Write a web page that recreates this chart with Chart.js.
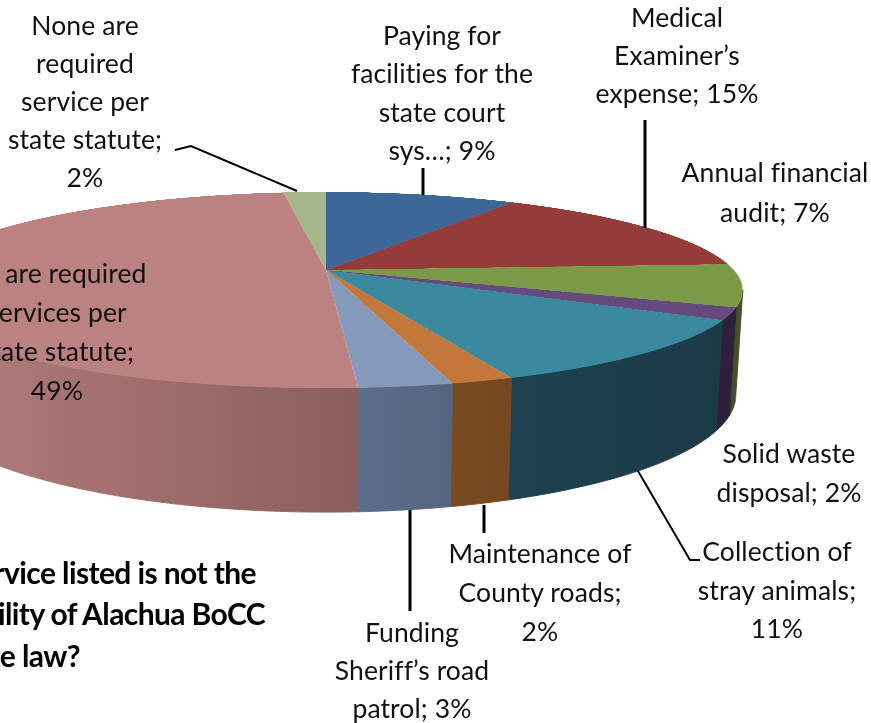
<!DOCTYPE html>
<html>
<head>
<meta charset="utf-8">
<title>Alachua BoCC survey</title>
<script src="https://cdn.jsdelivr.net/npm/chart.js@4"></script>
<style>
  html, body { margin: 0; padding: 0; background: #fff; width: 871px; height: 723px; overflow: hidden; }
  #stage { position: relative; width: 871px; height: 723px; overflow: hidden; }
  #wall, #pie, #leaders { position: absolute; }
  #wall, #leaders { left: 0; top: 0; }
  .lbl { position: absolute; white-space: nowrap; transform: translate(-50%, -50%);
         font: 26.5px Lato, sans-serif; color: #111; letter-spacing: 0.1px; }
  .ttl { position: absolute; white-space: nowrap; transform: translateY(-50%);
         font: bold 30px Lato, sans-serif; color: #000; letter-spacing: -0.6px; }
</style>
</head>
<body>
<div id="stage">
  <canvas id="wall" width="871" height="723"></canvas>
  <div id="pieBox"><canvas id="pie" width="800" height="800"></canvas></div>
  <svg id="leaders" width="871" height="723"></svg>
</div>
<script>
// data
const categories = ['Paying for facilities for the state court sys...', "Medical Examiner's expense", 'Annual financial audit',
  'Solid waste disposal', 'Collection of stray animals', 'Maintenance of County roads', "Funding Sheriff's road patrol",
  'All are required services per state statute', 'None are required service per state statute'];
const values = [9, 15, 7, 2, 11, 2, 3, 49, 2];
const labelLines = [
  ['Paying for', 'facilities for the', 'state court', 'sys…; %v%'],
  ['Medical', 'Examiner’s', 'expense; %v%'],
  ['Annual financial', 'audit; %v%'],
  ['Solid waste', 'disposal; %v%'],
  ['Collection of', 'stray animals;', '%v%'],
  ['Maintenance of', 'County roads;', '%v%'],
  ['Funding', 'Sheriff’s road', 'patrol; %v%'],
  ['All are required', 'services per', 'state statute;', '%v%'],
  ['None are', 'required', 'service per', 'state statute;', '%v%']
];
const titleLines = ['Which service listed is not the', 'responsibility of Alachua BoCC', 'under state law?'];

// look
const topColors = ['#3c6798', '#953b39', '#7b9a48', '#654a7d', '#3a899f', '#c3773a', '#8599ba', '#bc8282', '#a6b88a'];
const wallColors = [['#2a4868', '#2a4868'], ['#672927', '#672927'], ['#3e4d24', '#445428'], ['#2c1f3c', '#2e203e'],
  ['#1d4250', '#1b3a46'], ['#784a20', '#754820'], ['#5c6e8c', '#556580'], ['#b67e7e', '#8a5f5b'], ['#738060', '#738060']];

// label anchors: centre x, first line y, line step
const labelPos = [[442, 35, 38.3], [677, 17, 38], [775, 172, 40], [789, 453, 39], [777, 551, 38.5], [540, 553, 39], [412, 632, 38], [57, 273, 39], [85, 25, 38]];
const titlePos = [[256, 572], [265, 613], [80, 655]];
const leaderLines = [
  { pts: '175,150 191,146 297,191', w: 2 },
  { pts: '423,168 423,195', w: 3 },
  { pts: '645,120 645,228', w: 3 },
  { pts: '484,505 484,533', w: 3 },
  { pts: '410,510 410,611', w: 3 },
  { pts: '638,471 690,560 700,560', w: 2 }
];

// pie geometry on the page
const cx = 326, tipY = 270, halfPie = 400;
const perspK = -0.204, perspA = 408, perspB = 94;
const ellY = 290, ellRx = 417, ellRy = 98, baseY = 395, baseRx = 410, baseRy = 117;

function topPoint(ang) {
  const w = 1 + perspK * Math.sin(ang);
  return [cx + perspA * Math.cos(ang) / w, tipY + perspB * Math.sin(ang) / w];
}
function basePoint(p) {
  const ex = (p[0] - cx) / ellRx, ey = (p[1] - ellY) / ellRy;
  return [cx + baseRx * ex, baseY + baseRy * ey];
}

const wallPlugin = {
  id: 'wall3d',
  afterDraw(chart) {
    const ctx = document.getElementById('wall').getContext('2d');
    ctx.clearRect(0, 0, 871, 723);
    chart.getDatasetMeta(0).data.forEach(function (arc, i) {
      const up = [];
      const steps = Math.ceil((arc.endAngle - arc.startAngle) / 0.005);
      for (let s = 0; s <= steps; s++) {
        const p = topPoint(arc.startAngle + (arc.endAngle - arc.startAngle) * s / steps);
        if (p[1] >= ellY) up.push(p);
      }
      if (up.length < 2) return;
      const low = up.map(basePoint).reverse();
      const xs = up.concat(low).map(p => p[0]);
      const g = ctx.createLinearGradient(Math.min(...xs), 0, Math.max(...xs), 0);
      g.addColorStop(0, wallColors[i][0]);
      g.addColorStop(1, wallColors[i][1]);
      ctx.fillStyle = g;
      ctx.strokeStyle = g; // hides the hairline between slices
      ctx.lineWidth = 1;
      ctx.beginPath();
      up.concat(low).forEach((p, n) => n ? ctx.lineTo(p[0], p[1]) : ctx.moveTo(p[0], p[1]));
      ctx.closePath();
      ctx.fill();
      ctx.stroke();
    });
  }
};

// top face gets the perspective from css, chart.js draws the slices flat
const pieCanvas = document.getElementById('pie');
pieCanvas.style.left = (cx - halfPie) + 'px';
pieCanvas.style.top = (tipY - halfPie) + 'px';
pieCanvas.style.transformOrigin = '50% 50%';
pieCanvas.style.transform = 'matrix3d(' + [perspA / halfPie, 0, 0, 0, 0, perspB / halfPie, 0, perspK / halfPie, 0, 0, 1, 0, 0, 0, 0, 1].join(',') + ')';

new Chart(pieCanvas.getContext('2d'), {
  type: 'pie',
  data: {
    labels: categories,
    datasets: [{ data: values, backgroundColor: topColors, borderWidth: 0 }]
  },
  options: {
    responsive: false,
    animation: false,
    layout: { padding: 0 },
    plugins: { legend: { display: false }, tooltip: { enabled: false } }
  },
  plugins: [wallPlugin]
});

// text and leader lines
const stage = document.getElementById('stage');
labelLines.forEach(function (lines, i) {
  lines.forEach(function (line, n) {
    const d = document.createElement('div');
    d.className = 'lbl';
    d.textContent = line.replace('%v', values[i]);
    d.style.left = labelPos[i][0] + 'px';
    d.style.top = (labelPos[i][1] + n * labelPos[i][2]) + 'px';
    stage.appendChild(d);
  });
});
titleLines.forEach(function (line, n) {
  const d = document.createElement('div');
  d.className = 'ttl';
  d.textContent = line;
  d.style.right = (871 - titlePos[n][0]) + 'px';
  d.style.top = titlePos[n][1] + 'px';
  stage.appendChild(d);
});
const svg = document.getElementById('leaders');
leaderLines.forEach(function (l) {
  const pl = document.createElementNS('http://www.w3.org/2000/svg', 'polyline');
  pl.setAttribute('points', l.pts);
  pl.setAttribute('fill', 'none');
  pl.setAttribute('stroke', '#000');
  pl.setAttribute('stroke-width', l.w);
  svg.appendChild(pl);
});
</script>
</body>
</html>
